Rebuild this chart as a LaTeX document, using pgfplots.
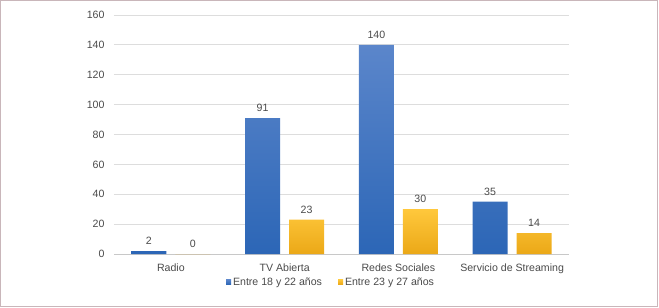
\documentclass[border=0pt]{standalone}
\usepackage{fontspec}
\setmainfont{Liberation Sans}
\usepackage{pgfplots}
\pgfplotsset{compat=1.18}
\definecolor{framec}{HTML}{C9B6BA}
\definecolor{txt}{HTML}{4A4A4A}
\definecolor{gridc}{HTML}{DDDDDD}
\definecolor{axc}{HTML}{C8C8C8}
\definecolor{blueT}{HTML}{5B86CB}
\definecolor{blueB}{HTML}{2C66B6}
\definecolor{yelT}{HTML}{FFC83C}
\definecolor{yelB}{HTML}{EBA817}
\newcommand{\lblfont}{\fontsize{10.6}{12}\selectfont}
\begin{document}
\begin{tikzpicture}[x=1pt,y=1pt]
\useasboundingbox (-114,-54) rectangle (545,254);
\draw[framec, line width=1pt] (-113,-52) rectangle (543,253);
\begin{axis}[
  at={(0,0)}, anchor=south west,
  scale only axis, width=455pt, height=239pt,
  ybar=9pt, bar width=35pt,
  xmin=-0.5, xmax=3.5, ymin=0, ymax=160,
  xtick={0,1,2,3},
  xticklabels={Radio, TV Abierta, Redes Sociales, Servicio de Streaming},
  ytick={0,20,...,160},
  ymajorgrids, grid style={gridc, line width=0.8pt},
  axis x line*=bottom, axis y line*=left,
  y axis line style={draw=none},
  x axis line style={axc, line width=0.8pt},
  major tick length=0pt, tick style={draw=none},
  xticklabel style={yshift=-6pt},
  yticklabel style={xshift=-6pt},
  tick label style={font=\lblfont, text=txt},
  /pgf/number format/assume math mode=true,
  nodes near coords,
  nodes near coords style={font=\lblfont, text=txt, yshift=3pt},
  legend style={at={(0.477,-0.117)}, anchor=center, draw=none, fill=none,
    legend columns=2, font=\lblfont, text=txt,
    /tikz/every even column/.append style={column sep=14pt}},
]
\addplot[draw=none, top color=blueT, bottom color=blueB,
  legend image code/.code={\fill[blueB] (0pt,-2.5pt) rectangle (5pt,2.5pt);}]
  coordinates {(0,2) (1,91) (2,140) (3,35)};
\addlegendentry{Entre 18 y 22 años}
\addplot[draw=none, top color=yelT, bottom color=yelB,
  legend image code/.code={\fill[yelT] (0pt,-2.5pt) rectangle (5pt,2.5pt);}]
  coordinates {(0,0) (1,23) (2,30) (3,14)};
\addlegendentry{Entre 23 y 27 años}
\end{axis}
\end{tikzpicture}
\end{document}
